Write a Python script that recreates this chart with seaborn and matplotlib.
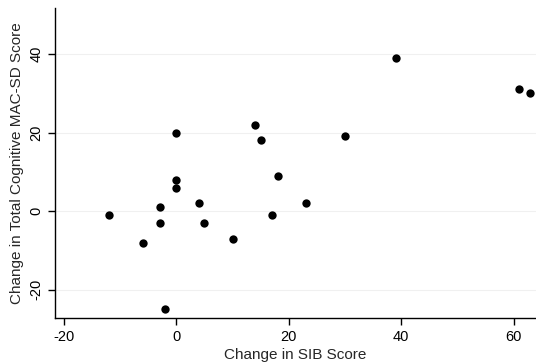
import matplotlib
matplotlib.use("Agg")
import matplotlib.pyplot as plt
import seaborn as sns
import pandas as pd

sib_change = [-12, -6, -3, -3, -2, 0, 0, 0, 4, 5, 10, 14, 15, 17, 18, 23, 30, 39, 61, 63]
macsd_change = [-1, -8, 1, -3, -25, 20, 8, 6, 2, -3, -7, 22, 18, -1, 9, 2, 19, 39, 31, 30]
x_ticks = [-20, 0, 20, 40, 60]
y_ticks = [-20, 0, 20, 40]

df = pd.DataFrame({"sib": sib_change, "mac": macsd_change})

sns.set_style("white")
plt.rcParams['font.family'] = ['Liberation Sans', 'DejaVu Sans']

fig = plt.figure(figsize=(5.36, 3.64), dpi=100)
ax = fig.add_axes([55/536, 46/364, 1 - 55/536, (318-8)/364])

for yt in y_ticks:
    ax.axhline(yt, color="#f0f0f0", lw=0.8, zorder=0)

sns.scatterplot(data=df, x="sib", y="mac", ax=ax, color="black", s=36,
                edgecolor="black", linewidth=0, zorder=3)

ax.set_xlim(-21.6, 64.0)
ax.set_ylim(-27.2, 51.7)
ax.set_xticks(x_ticks)
ax.set_yticks(y_ticks)
ax.set_xticklabels([str(v) for v in x_ticks])
ax.set_yticklabels([str(v) for v in y_ticks], rotation=90, va="center")
ax.tick_params(axis="both", direction="out", length=5, width=1, colors="black",
               labelsize=10.5, bottom=True, left=True)
ax.set_xlabel("Change in SIB Score", fontsize=11, labelpad=3)
ax.set_ylabel("Change in Total Cognitive MAC-SD Score", fontsize=11, labelpad=4)

for side in ["top", "right"]:
    ax.spines[side].set_visible(False)
for side in ["left", "bottom"]:
    ax.spines[side].set_color("black")
    ax.spines[side].set_linewidth(1)

fig.savefig("out.png", dpi=100)
